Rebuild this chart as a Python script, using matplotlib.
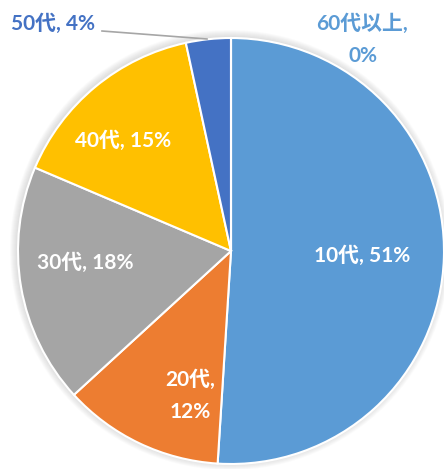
import matplotlib
matplotlib.use('Agg')
import matplotlib.pyplot as plt
from matplotlib.patches import Circle

# data (shares, labels as printed)
labels = ['10代', '20代', '30代', '40代', '50代', '60代以上']
values = [51.0, 12.2, 18.2, 15.2, 3.4, 0.0]
pct_text = ['51%', '12%', '18%', '15%', '4%', '0%']
colors = ['#5B9BD5', '#ED7D31', '#A5A5A5', '#FFC000', '#4472C4', '#70AD47']

plt.rcParams['font.family'] = ['Lato', 'Noto Sans CJK JP', 'DejaVu Sans']

fig = plt.figure(figsize=(4.44, 4.69), dpi=100)
ax = fig.add_axes([0, 0, 1, 1])

R = 213
# soft shadow around the pie
for k in range(1, 8):
    ax.add_patch(Circle((-1, 1), R + k, color='#808080', alpha=0.035, lw=0, zorder=0))

ax.pie(values, colors=colors, startangle=90, counterclock=False, radius=R,
       center=(0, 0), wedgeprops=dict(edgecolor='white', linewidth=1.5))

# pie() resets the frame, so fix limits afterwards (1 data unit = 1 pixel)
ax.set_xlim(-231, 213)
ax.set_ylim(-218, 251)
ax.set_aspect('equal')
ax.axis('off')

# label text positions (pixels relative to pie centre)
txt = dict(fontsize=15, fontweight='bold', ha='center', va='center')
ax.text(131, -5, labels[0] + ', ' + pct_text[0], color='white', **txt)
ax.text(-41, -129, labels[1] + ',', color='white', **txt)
ax.text(-41, -161, pct_text[1], color='white', **txt)
ax.text(-146, -12, labels[2] + ', ' + pct_text[2], color='white', **txt)
ax.text(-108, 110, labels[3] + ', ' + pct_text[3], color='white', **txt)
ax.text(-178, 227, labels[4] + ', ' + pct_text[4], color=colors[4], **txt)
ax.text(131, 227, labels[5] + ',', color=colors[0], **txt)
ax.text(132, 195, pct_text[5], color=colors[0], **txt)

# leader line for 50代
ax.plot([-129, -24], [220, 212], color='#A6A6A6', lw=1.2, zorder=5)

fig.savefig('out.png', dpi=100)
